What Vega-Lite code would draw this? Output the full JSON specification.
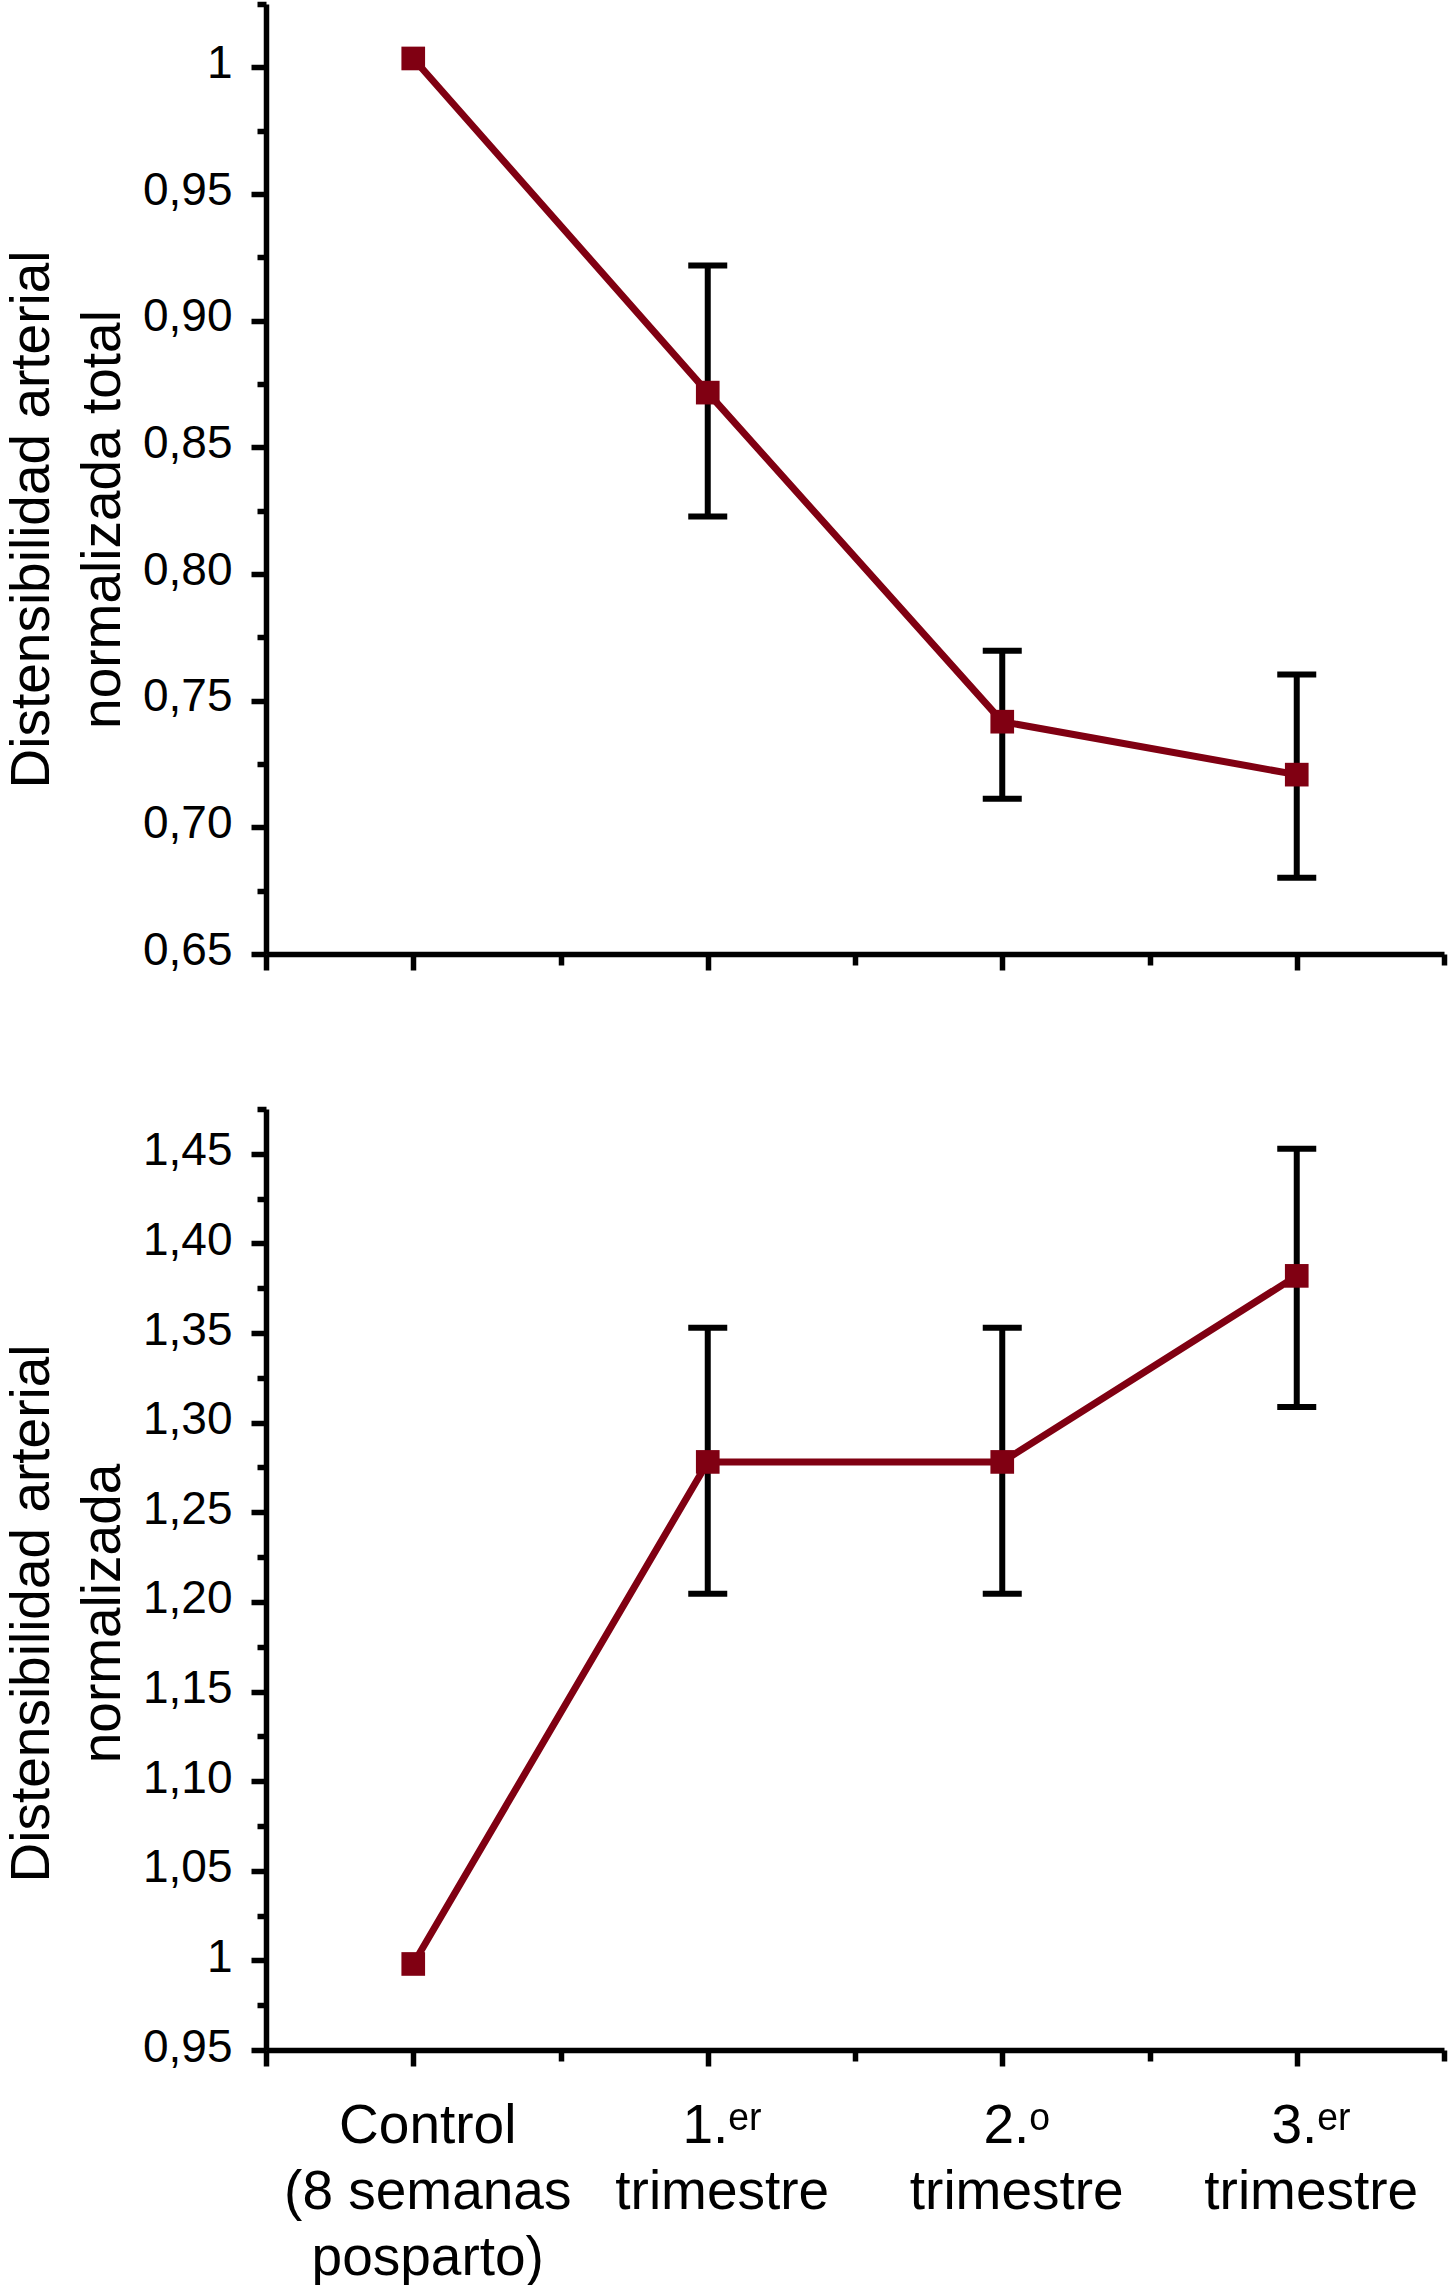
{
  "$schema": "https://vega.github.io/schema/vega-lite/v6.json",
  "padding": {"left": 3, "top": 0, "right": 0, "bottom": 0},
  "background": "white",
  "spacing": 133,
  "config": {
    "font": "Liberation Sans",
    "view": {"stroke": null},
    "axis": {
      "grid": false,
      "domainColor": "black",
      "domainWidth": 5.5,
      "tickColor": "black",
      "tickWidth": 5.5,
      "labelColor": "black",
      "titleColor": "black",
      "labelFont": "Liberation Sans",
      "titleFont": "Liberation Sans",
      "labelFontSize": 46,
      "titleFontSize": 55,
      "titleFontWeight": "normal",
      "labelOverlap": false,
      "labelFlush": false,
      "labelBound": false,
      "labelLimit": 0
    }
  },
  "datasets": {
    "total": [
      {"x": 1, "grupo": "Control (8 semanas posparto)", "value": 1.0035, "lo": null, "hi": null},
      {"x": 2, "grupo": "1.er trimestre", "value": 0.8716, "lo": 0.8227, "hi": 0.9218},
      {"x": 3, "grupo": "2.o trimestre", "value": 0.7417, "lo": 0.7113, "hi": 0.7697},
      {"x": 4, "grupo": "3.er trimestre", "value": 0.7208, "lo": 0.6801, "hi": 0.7603}
    ],
    "norm": [
      {"x": 1, "grupo": "Control (8 semanas posparto)", "value": 0.998, "lo": null, "hi": null},
      {"x": 2, "grupo": "1.er trimestre", "value": 1.2781, "lo": 1.2045, "hi": 1.3529},
      {"x": 3, "grupo": "2.o trimestre", "value": 1.2781, "lo": 1.2045, "hi": 1.3529},
      {"x": 4, "grupo": "3.er trimestre", "value": 1.3819, "lo": 1.3088, "hi": 1.4528}
    ]
  },
  "vconcat": [
    {
      "width": 1178,
      "height": 950,
      "data": {"name": "total"},
      "encoding": {
        "x": {
          "field": "x",
          "type": "quantitative",
          "scale": {"domain": [0.5, 4.5], "nice": false, "zero": false},
          "axis": {
            "title": null,
            "labels": false,
            "values": [0.5, 1, 1.5, 2, 2.5, 3, 3.5, 4, 4.5],
            "tickSize": {"condition": {"test": "datum.value % 1 == 0 || datum.value == 0.5", "value": 16}, "value": 11}
          }
        },
        "y": {
          "field": "value",
          "type": "quantitative",
          "scale": {"domain": [0.65, 1.025], "nice": false, "zero": false},
          "axis": {
            "values": [0.65, 0.675, 0.7, 0.725, 0.75, 0.775, 0.8, 0.825, 0.85, 0.875, 0.9, 0.925, 0.95, 0.975, 1, 1.025],
            "tickSize": {"condition": {"test": "round(datum.value * 40) % 2 == 0", "value": 15}, "value": 9},
            "labelFontSize": {"condition": {"test": "round(datum.value * 40) % 2 == 0", "value": 46}, "value": 0},
            "labelExpr": "round(datum.value * 40) % 2 == 0 ? (datum.value == 1 ? '1' : replace(format(datum.value, '.2f'), '.', ',')) : ''",
            "labelPadding": 19,
            "labelOffset": -4,
            "title": ["Distensibilidad arterial", "normalizada total"],
            "titleX": -235,
            "titleY": 515,
            "titleAngle": -90,
            "titleAlign": "center",
            "titleBaseline": "middle",
            "titleLineHeight": 71
          }
        }
      },
      "layer": [
        {
          "transform": [{"filter": "datum.lo != null"}],
          "mark": {
            "type": "errorbar",
            "color": "black",
            "rule": {"strokeWidth": 6, "opacity": 1},
            "ticks": {"size": 39, "thickness": 6, "color": "black", "opacity": 1}
          },
          "encoding": {
            "y": {"field": "lo", "type": "quantitative"},
            "y2": {"field": "hi"}
          }
        },
        {
          "mark": {"type": "line", "color": "#800012", "strokeWidth": 7}
        },
        {
          "mark": {"type": "point", "shape": "square", "filled": true, "size": 560, "color": "#800012", "opacity": 1}
        }
      ]
    },
    {
      "width": 1178,
      "height": 941,
      "data": {"name": "norm"},
      "encoding": {
        "x": {
          "field": "x",
          "type": "quantitative",
          "scale": {"domain": [0.5, 4.5], "nice": false, "zero": false},
          "axis": {
            "title": null,
            "values": [0.5, 1, 1.5, 2, 2.5, 3, 3.5, 4, 4.5],
            "tickSize": {"condition": {"test": "datum.value % 1 == 0 || datum.value == 0.5", "value": 16}, "value": 11},
            "labelExpr": "datum.value == 1 ? ['Control', '(8 semanas', 'posparto)'] : datum.value == 2 ? ['1.ᵉʳ', 'trimestre'] : datum.value == 3 ? ['2.ᵒ', 'trimestre'] : datum.value == 4 ? ['3.ᵉʳ', 'trimestre'] : ''",
            "labelFontSize": {"condition": {"test": "datum.value % 1 == 0", "value": 55}, "value": 0},
            "labelLineHeight": 66,
            "labelPadding": 33,
            "labelOffset": 14,
            "labelAlign": "center",
            "labelBaseline": "top"
          }
        },
        "y": {
          "field": "value",
          "type": "quantitative",
          "scale": {"domain": [0.95, 1.475], "nice": false, "zero": false},
          "axis": {
            "values": [0.95, 0.975, 1, 1.025, 1.05, 1.075, 1.1, 1.125, 1.15, 1.175, 1.2, 1.225, 1.25, 1.275, 1.3, 1.325, 1.35, 1.375, 1.4, 1.425, 1.45, 1.475],
            "tickSize": {"condition": {"test": "round(datum.value * 40) % 2 == 0", "value": 15}, "value": 9},
            "labelFontSize": {"condition": {"test": "round(datum.value * 40) % 2 == 0", "value": 46}, "value": 0},
            "labelExpr": "round(datum.value * 40) % 2 == 0 ? (datum.value == 1 ? '1' : replace(format(datum.value, '.2f'), '.', ',')) : ''",
            "labelPadding": 19,
            "labelOffset": -3,
            "title": ["Distensibilidad arterial", "normalizada"],
            "titleX": -235,
            "titleY": 504,
            "titleAngle": -90,
            "titleAlign": "center",
            "titleBaseline": "middle",
            "titleLineHeight": 71
          }
        }
      },
      "layer": [
        {
          "transform": [{"filter": "datum.lo != null"}],
          "mark": {
            "type": "errorbar",
            "color": "black",
            "rule": {"strokeWidth": 6, "opacity": 1},
            "ticks": {"size": 39, "thickness": 6, "color": "black", "opacity": 1}
          },
          "encoding": {
            "y": {"field": "lo", "type": "quantitative"},
            "y2": {"field": "hi"}
          }
        },
        {
          "mark": {"type": "line", "color": "#800012", "strokeWidth": 7}
        },
        {
          "mark": {"type": "point", "shape": "square", "filled": true, "size": 560, "color": "#800012", "opacity": 1}
        }
      ]
    }
  ]
}
